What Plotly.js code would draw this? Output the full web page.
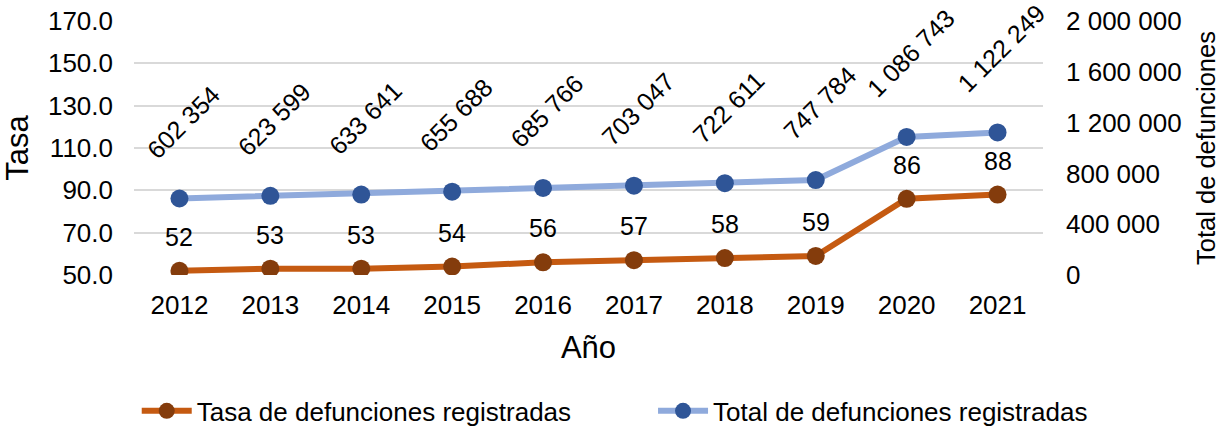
<!DOCTYPE html>
<html>
<head>
<meta charset="utf-8">
<script src="https://cdn.plot.ly/plotly-3.0.1.min.js"></script>
<style>
  html, body { margin: 0; padding: 0; background: #fff; }
  #chart { width: 1229px; height: 432px; }
</style>
</head>
<body>
<div id="chart"></div>
<script>
const years = [2012, 2013, 2014, 2015, 2016, 2017, 2018, 2019, 2020, 2021];
const tasa = [52, 53, 53, 54, 56, 57, 58, 59, 86, 88];
const totales = [602354, 623599, 633641, 655688, 685766, 703047, 722611, 747784, 1086743, 1122249];
const tasaTicks = [50, 70, 90, 110, 130, 150, 170];
const totalTicks = [0, 400000, 800000, 1200000, 1600000, 2000000];

// thousands with a space, like the original labels
function fmt(v) {
    return String(v).replace(/\B(?=(\d{3})+(?!\d))/g, " ");
}

const plotData = [
    {
        x: years, y: tasa, yaxis: "y",
        name: "Tasa de defunciones registradas",
        mode: "lines+markers",
        line: { color: "#C55A11", width: 6 },
        marker: { color: "#843C0C", size: 18 },
        legend: "legend"
    },
    {
        x: years, y: totales, yaxis: "y2",
        name: "Total de defunciones registradas",
        mode: "lines+markers",
        line: { color: "#8FAADC", width: 6 },
        marker: { color: "#2F5597", size: 18 },
        legend: "legend2"
    }
];

// Data labels
const annotations = [];
years.forEach((yr, i) => {
    annotations.push({
        x: yr, y: tasa[i], xref: "x", yref: "y",
        text: String(tasa[i]), showarrow: false,
        xanchor: "center", yanchor: "middle", yshift: 34,
        font: { size: 25 }
    });
    annotations.push({
        x: yr, y: totales[i], xref: "x", yref: "y2",
        text: fmt(totales[i]), showarrow: false, textangle: -45,
        xanchor: "center", yanchor: "bottom", yshift: 32, xshift: 4,
        font: { size: 25 }
    });
});

const legendStyle = {
    orientation: "h",
    xanchor: "left",
    y: -0.535, yanchor: "middle",
    itemwidth: 50,
    bgcolor: "rgba(0,0,0,0)",
    font: { size: 26 }
};

const layout = {
    width: 1229,
    height: 432,
    font: { family: "Liberation Sans, Arial, sans-serif", size: 26, color: "#000" },
    paper_bgcolor: "#fff",
    plot_bgcolor: "#fff",
    margin: { t: 21, r: 186, b: 157, l: 134, autoexpand: false },
    showlegend: true,
    xaxis: {
        range: [2011.5, 2021.5],
        tickvals: years,
        tickformat: "d",
        showgrid: false, zeroline: false, showline: false, ticks: "",
        ticklabelstandoff: 12,
        title: { text: "Año", standoff: 17 }
    },
    yaxis: {
        range: [50, 170],
        tickvals: tasaTicks,
        tickformat: ".1f",
        gridcolor: "#D9D9D9", gridwidth: 1.5,
        zeroline: false, ticks: "", ticklabelstandoff: 20,
        title: { text: "Tasa", standoff: 14 }
    },
    yaxis2: {
        overlaying: "y", side: "right",
        range: [0, 2000000],
        tickvals: totalTicks,
        ticktext: totalTicks.map(fmt),
        showgrid: false, zeroline: false, ticks: "", ticklabelstandoff: 22,
        title: { text: "Total de defunciones", standoff: 16, font: { size: 25.5 } }
    },
    legend: Object.assign({}, legendStyle, { x: 0.003 }),
    legend2: Object.assign({}, legendStyle, { x: 0.571 }),
    annotations: annotations
};

Plotly.newPlot("chart", plotData, layout, { displayModeBar: false, responsive: false });
</script>
</body>
</html>
